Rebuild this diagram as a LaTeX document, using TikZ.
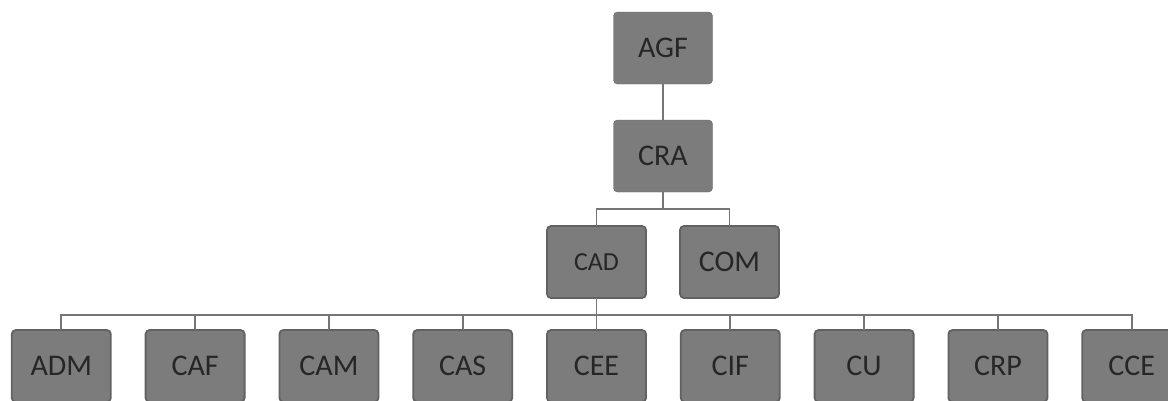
\documentclass[tikz,border=0pt]{standalone}
\usepackage{fontspec}
\setmainfont{Carlito}
\definecolor{boxgray}{RGB}{124,124,124}
\definecolor{edgegray}{RGB}{98,98,98}
\definecolor{linegray}{RGB}{118,118,118}

\begin{document}
\begin{tikzpicture}[
  level 1/.style={level distance=108pt},
  level 2/.style={level distance=106pt, sibling distance=133pt},
  level 3/.style={level distance=104pt, sibling distance=133.8pt},
  every node/.style={draw=edgegray, fill=boxgray, rounded corners=4pt,
    minimum width=99pt, minimum height=72pt, text=black!85,
    font=\fontsize{30}{32}\selectfont},
  edge from parent/.style={draw=linegray, line width=1.8pt},
  edge from parent path={(\tikzparentnode.south) -- ++(0,-17pt) -| (\tikzchildnode.north)},
  ]
\useasboundingbox (0,0) rectangle (1168pt,-400pt);

% Root node
\node (agf) at (663pt,-48pt) {AGF}
    child { node (cra) {CRA}
        child { node (cad) {\fontsize{26}{28}\selectfont CAD}
            child { node (adm) {ADM} }
            child { node (caf) {CAF} }
            child { node (cam) {CAM} }
            child { node (cas) {CAS} }
            child { node (cee) {CEE} }
            child { node (cif) {CIF} }
            child { node (cu) {CU} }
            child { node (crp) {CRP} }
            child { node (cce) {CCE} }
        }
        child { node (com) {COM} }
    };

\end{tikzpicture}
\end{document}
